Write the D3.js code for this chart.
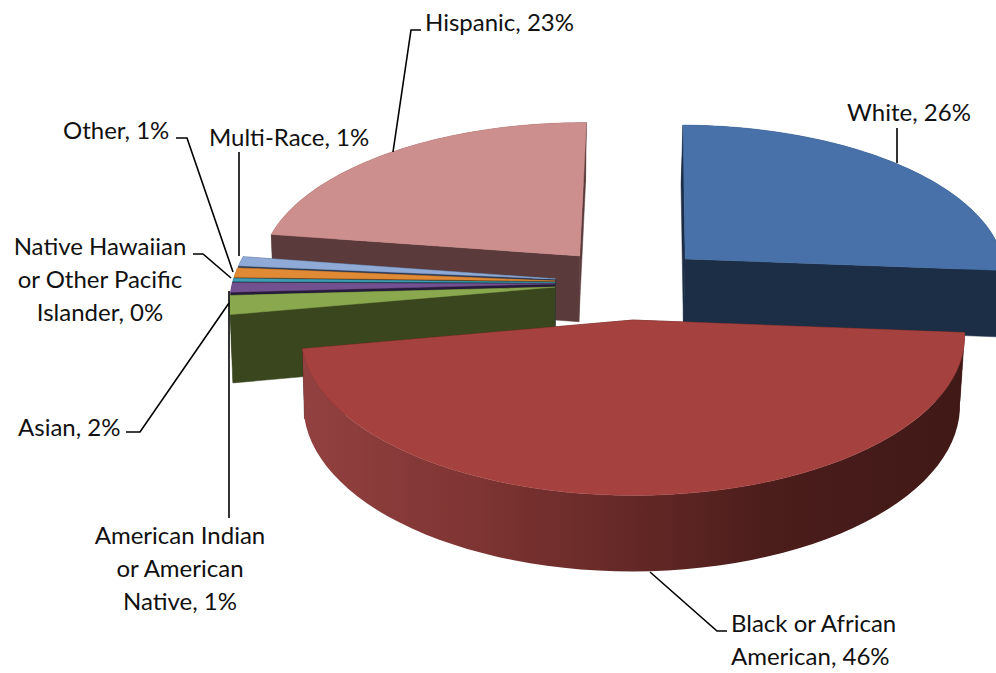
<!DOCTYPE html>
<html>
<head>
<meta charset="utf-8">
<script src="https://cdn.jsdelivr.net/npm/d3@7"></script>
<style>
  html, body { margin: 0; padding: 0; background: #fff; overflow: hidden; }
  text { font-family: Lato, "Open Sans", sans-serif; font-size: 24px; fill: #111; }
</style>
</head>
<body>
<script>
// Share of each group, clockwise from twelve o'clock
const categories = ["White", "Black or African American", "Asian", "American Indian or American Native",
  "Native Hawaiian or Other Pacific Islander", "Other", "Multi-Race", "Hispanic"];
const values = [26.4, 46.4, 2, 1, 0.3, 1, 1, 23];
const labelLines = [
  ["White"],
  ["Black or African", "American"],
  ["Asian"],
  ["American Indian", "or American", "Native"],
  ["Native Hawaiian", "or Other Pacific", "Islander"],
  ["Other"],
  ["Multi-Race"],
  ["Hispanic"],
];
const topColors = ["#4771a8", "#a5423f", "#8aa94f", "#73508f", "#3f9eb5", "#e08a35", "#8faad6", "#cd8f8d"];
const wallColors = ["#1c2d46", "#401917", "#3a461e", "#251a3a", "#14404a", "#5a3414", "#2c3a55", "#5a3a3a"];

const width = 996;
const height = 673;

// 3D pie set up: ground plane seen at an angle, with a little perspective
const cx = 629;
const cy = 283;
const radiusX = 322.5;
const radiusY = 151;
const perspective = 0.0957;
const depth = 67;
const explode = 0.24;
const explodeSmall = 0.23; // the thin slices sit a bit closer in
const rotation = 0.5 * Math.PI / 180;
const vanishX = 500;

function project(x, z, h) {
  const s = 1 / (1 + perspective * z);
  const px = cx + radiusX * x * s;
  const py = cy - radiusY * z * s + depth * h * s;
  return [vanishX + (px - vanishX) * (1 - 0.01 * h), py];
}

const pie = d3.pie().sort(null).value((d) => d)
  .startAngle(rotation)
  .endAngle(2 * Math.PI + rotation)(values);
const line = d3.line();

const svg = d3.select("body").append("svg")
  .attr("width", width)
  .attr("height", height)
  .attr("viewBox", [0, 0, width, height]);

const defs = svg.append("defs");
const wallGradient = defs.append("linearGradient")
  .attr("id", "blackWall")
  .attr("gradientUnits", "userSpaceOnUse")
  .attr("x1", 303).attr("x2", 965).attr("y1", 0).attr("y2", 0);
[[0, "#924140"], [0.25, "#7f3533"], [0.5, "#642826"], [0.7, "#4b1d1b"], [1, "#401917"]].forEach(([o, c]) => {
  wallGradient.append("stop").attr("offset", o).attr("stop-color", c);
});

function slicePoint(d, angle, r, h) {
  const mid = (d.startAngle + d.endAngle) / 2;
  const e = d.index >= 2 && d.index <= 6 ? explodeSmall : explode;
  const x = e * Math.sin(mid) + r * Math.sin(angle);
  const z = e * Math.cos(mid) + r * Math.cos(angle);
  return project(x, z, h);
}

function arcPoints(d, h) {
  return d3.range(0, 61).map((i) => slicePoint(d, d.startAngle + (d.endAngle - d.startAngle) * i / 60, 1, h));
}

// paint far slices first, the front one goes last
const order = [0, 7, 6, 5, 4, 3, 2, 1];

order.forEach((i) => {
  const d = pie[i];
  const g = svg.append("g").attr("class", "slice");
  const wallFill = i === 1 ? "url(#blackWall)" : wallColors[i];

  // the two cut faces
  [d.endAngle, d.startAngle].forEach((a) => {
    g.append("path")
      .attr("d", line([slicePoint(d, a, 0, 0), slicePoint(d, a, 1, 0), slicePoint(d, a, 1, 1), slicePoint(d, a, 0, 1)]) + "Z")
      .attr("fill", wallColors[i])
      .attr("stroke", wallColors[i])
      .attr("stroke-width", 0.5);
  });

  // outer wall
  g.append("path")
    .attr("d", line(arcPoints(d, 0).concat(arcPoints(d, 1).reverse())) + "Z")
    .attr("fill", wallFill);

  // top face
  g.append("path")
    .attr("d", line([slicePoint(d, 0, 0, 0)].concat(arcPoints(d, 0))) + "Z")
    .attr("fill", topColors[i])
    .attr("stroke", topColors[i])
    .attr("stroke-width", 0.5);
});

// Label placement and leader lines, by category index
const labelLayout = [
  { x: 909, y: 121, anchor: "middle", leader: [[897, 163], [897, 128]] },
  { x: 731, y: 632, anchor: "start", leader: [[650, 572], [717, 631], [727, 631]] },
  { x: 18, y: 436, anchor: "start", leader: [[229, 303], [140, 432], [126, 432]] },
  { x: 180, y: 544, anchor: "middle", leader: [[229, 291], [229, 518]] },
  { x: 100, y: 255, anchor: "middle", leader: [[231, 278], [203, 254], [193, 254]] },
  { x: 63, y: 139, anchor: "start", leader: [[233, 272], [187, 138], [176, 138]] },
  { x: 209, y: 146, anchor: "start", leader: [[239, 256], [239, 152]] },
  { x: 425, y: 31, anchor: "start", leader: [[393, 152], [411, 30], [421, 30]] },
];

const labels = svg.append("g").attr("class", "labels");

labelLayout.forEach((l, i) => {
  labels.append("path")
    .attr("d", line(l.leader))
    .attr("fill", "none")
    .attr("stroke", "#000")
    .attr("stroke-width", 1.6);

  const lines = labelLines[i].slice();
  lines[lines.length - 1] += ", " + Math.round(values[i]) + "%";
  const text = labels.append("text")
    .attr("text-anchor", l.anchor)
    .attr("y", l.y);
  text.selectAll("tspan")
    .data(lines)
    .join("tspan")
    .attr("x", l.x)
    .attr("dy", (t, j) => (j === 0 ? 0 : 33))
    .text((t) => t);
});
</script>
</body>
</html>
